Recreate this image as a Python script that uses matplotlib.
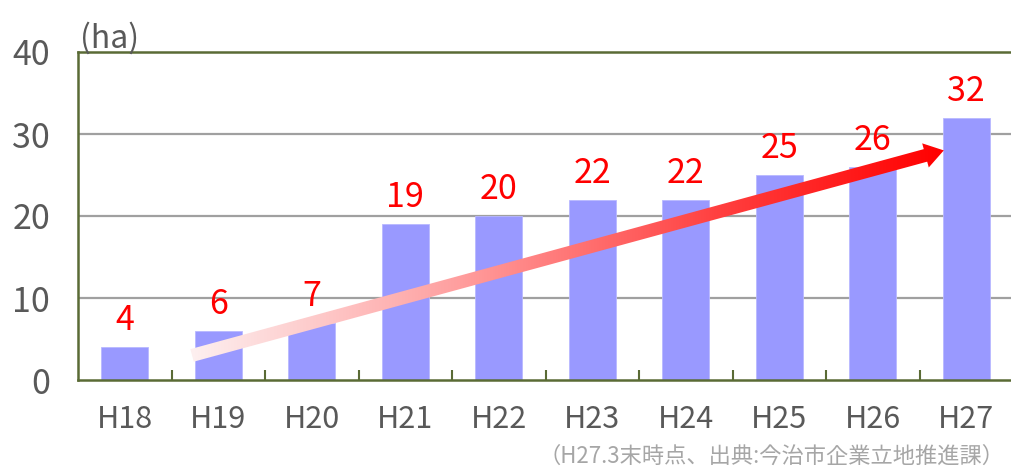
import numpy as np
import matplotlib
matplotlib.use("Agg")
import matplotlib.pyplot as plt
from matplotlib.path import Path
from matplotlib.patches import PathPatch
from matplotlib.colors import LinearSegmentedColormap

plt.rcParams['font.family'] = ['Noto Sans CJK JP', 'DejaVu Sans']

categories = ["H18", "H19", "H20", "H21", "H22", "H23", "H24", "H25", "H26", "H27"]
values = [4, 6, 7, 19, 20, 22, 22, 25, 26, 32]
yticks = [0, 10, 20, 30, 40]
unit_label = "(ha)"
source_text = "（H27.3末時点、出典:今治市企業立地推進課）"

W, H = 1011, 470
fig = plt.figure(figsize=(W / 100, H / 100), dpi=100)
ax = fig.add_axes([78 / W, (H - 380) / H, (1013 - 78) / W, (380 - 52) / H])

x = np.arange(len(categories))
ax.bar(x, values, width=0.5, color="#9999FF", edgecolor="#B8B8FF", linewidth=0.6, zorder=2)

ax.set_xlim(-0.5, len(categories) - 0.5)
ax.set_ylim(0, 40)
ax.set_yticks(yticks)
ax.set_yticklabels([str(v) for v in yticks])
for v in yticks[1:-1]:
    ax.axhline(v, color="#A0A0A0", linewidth=1.6, zorder=1)

olive = "#5A6B35"
for s in ["left", "bottom", "top"]:
    ax.spines[s].set_color(olive)
    ax.spines[s].set_linewidth(1.8)
ax.spines["right"].set_visible(False)

ax.tick_params(axis="y", length=0, pad=20, labelsize=24.5, labelcolor="#595959")
ax.set_xticks(x)
ax.set_xticklabels(categories)
ax.tick_params(axis="x", length=0, pad=17, labelsize=22, labelcolor="#595959")
ax.set_xticks(np.arange(0.5, len(categories) - 0.5, 1.0), minor=True)
ax.tick_params(axis="x", which="minor", direction="in", length=7, width=1.5, color=olive)

for xi, v in zip(x, values):
    ax.annotate(str(v), (xi, v), xytext=(0, 12.2), textcoords="offset points",
                ha="center", va="baseline", color="#FF0000", fontsize=24.5, zorder=4)

fig.text(80 / W, 1 - 38 / H, unit_label, fontsize=23, color="#595959", va="center", ha="left")
fig.text(1005 / W, 1 - 456 / H, source_text, fontsize=16, color="#A6A6A6", va="center", ha="right")

# gradient arrow
x0d, y0d = 0.72, 3.0
x1d, y1d = 8.76, 28.0
fig.canvas.draw()
T = ax.transData
p0 = T.transform((x0d, y0d))
p1 = T.transform((x1d, y1d))
d = p1 - p0
L = np.hypot(*d)
u = d / L
n = np.array([-u[1], u[0]])
sw, hw, hl = 6.5, 12.5, 19.0
base = p1 - u * hl
pts = [p0 + n * sw, base + n * sw, base + n * hw, p1, base - n * hw, base - n * sw, p0 - n * sw, p0 + n * sw]
pts_d = T.inverted().transform(np.array(pts))
codes = [Path.MOVETO] + [Path.LINETO] * (len(pts) - 2) + [Path.CLOSEPOLY]
patch = PathPatch(Path(pts_d, codes), facecolor="none", edgecolor="none", zorder=3)
ax.add_patch(patch)
cmap = LinearSegmentedColormap.from_list("g", [(0, "#FDF0F0"), (0.35, "#FFA0A0"), (0.7, "#FF4040"), (1, "#FF0000")])
grad = np.linspace(0, 1, 256).reshape(1, -1)
xmin, xmax = pts_d[:, 0].min(), pts_d[:, 0].max()
ymin, ymax = pts_d[:, 1].min(), pts_d[:, 1].max()
im = ax.imshow(grad, cmap=cmap, extent=[xmin, xmax, ymin, ymax], aspect="auto",
               interpolation="bilinear", zorder=3, origin="lower")
im.set_clip_path(patch)
ax.set_xlim(-0.5, len(categories) - 0.5)
ax.set_ylim(0, 40)

fig.savefig("out.png", dpi=100)
